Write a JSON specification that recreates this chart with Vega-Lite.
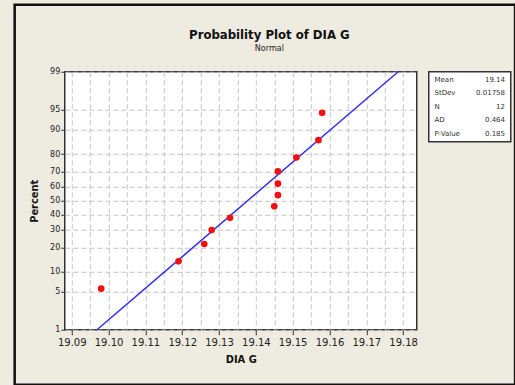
{
  "$schema": "https://vega.github.io/schema/vega-lite/v6.json",
  "autosize": {"type": "pad"},
  "padding": {"left": 11.75, "top": 1.75, "right": 0.25, "bottom": 0.75},
  "background": "#EEEBE0",
  "bounds": "flush",
  "spacing": 12,
  "title": {
    "text": "Probability Plot of DIA G",
    "subtitle": "Normal",
    "anchor": "middle",
    "frame": "bounds",
    "dx": 4.5,
    "offset": -50,
    "font": "DejaVu Sans Condensed",
    "fontSize": 13,
    "fontWeight": "bold",
    "color": "#111111",
    "subtitleFont": "DejaVu Sans Condensed",
    "subtitleFontSize": 9,
    "subtitleColor": "#222222",
    "subtitlePadding": 2
  },
  "config": {
    "view": {"stroke": "#333333", "strokeWidth": 1.5, "fill": "white"},
    "font": "DejaVu Sans"
  },
  "hconcat": [
    {
      "width": 352,
      "height": 258,
      "layer": [
        {
          "data": {"values": [{}]},
          "mark": {"type": "rect", "filled": false, "stroke": "#111111", "strokeWidth": 2.5, "clip": false},
          "encoding": {
            "x": {"datum": 19.0745, "type": "quantitative"},
            "x2": {"datum": 19.2104},
            "y": {"datum": 3.5346, "type": "quantitative"},
            "y2": {"datum": -3.3184}
          }
        },
        {
          "data": {"values": [
            {"dia": 19.09685, "z": -2.3263},
            {"dia": 19.17865, "z": 2.3263}
          ]},
          "mark": {"type": "line", "color": "#3535ee", "strokeWidth": 1.6},
          "encoding": {
            "x": {"field": "dia", "type": "quantitative"},
            "y": {"field": "z", "type": "quantitative"}
          }
        },
        {
          "data": {"values": [
            {"dia": 19.098, "percent": 5.6, "z": -1.5853},
            {"dia": 19.119, "percent": 13.7, "z": -1.0932},
            {"dia": 19.126, "percent": 21.8, "z": -0.7801},
            {"dia": 19.128, "percent": 29.8, "z": -0.5286},
            {"dia": 19.133, "percent": 37.9, "z": -0.3081},
            {"dia": 19.145, "percent": 46.0, "z": -0.1013},
            {"dia": 19.146, "percent": 54.0, "z": 0.1013},
            {"dia": 19.146, "percent": 62.1, "z": 0.3081},
            {"dia": 19.146, "percent": 70.2, "z": 0.5286},
            {"dia": 19.151, "percent": 78.2, "z": 0.7801},
            {"dia": 19.157, "percent": 86.3, "z": 1.0932},
            {"dia": 19.158, "percent": 94.4, "z": 1.5853}
          ]},
          "mark": {"type": "circle", "color": "#f01010", "size": 44, "opacity": 1},
          "encoding": {
            "x": {
              "field": "dia",
              "type": "quantitative",
              "scale": {"domain": [19.0881, 19.1837], "nice": false, "zero": false},
              "axis": {
                "title": "DIA G",
                "titleFont": "DejaVu Sans Condensed",
                "titleFontSize": 11,
                "titleFontWeight": "bold",
                "titleColor": "#111111",
                "titlePadding": 6,
                "values": [19.09, 19.095, 19.1, 19.105, 19.11, 19.115, 19.12, 19.125, 19.13, 19.135, 19.14, 19.145, 19.15, 19.155, 19.16, 19.165, 19.17, 19.175, 19.18],
                "tickCount": 100,
                "labelExpr": "round(datum.value * 1000) % 10 == 0 ? format(datum.value, '.2f') : ''",
                "labelOverlap": false,
                "labelFont": "DejaVu Sans",
                "labelFontSize": 10,
                "labelColor": "#222222",
                "labelPadding": 3,
                "domain": false,
                "tickColor": "#333333",
                "tickSize": 5,
                "tickOpacity": {"condition": {"test": "round(datum.value * 1000) % 10 != 0", "value": 0}, "value": 1},
                "grid": true,
                "gridColor": "#c4c4c4",
                "gridDash": [5, 3],
                "gridWidth": 1
              }
            },
            "y": {
              "field": "z",
              "type": "quantitative",
              "scale": {"domain": [-2.3263, 2.3263], "nice": false, "zero": false},
              "axis": {
                "title": "Percent",
                "titleFont": "DejaVu Sans Condensed",
                "titleFontSize": 11,
                "titleFontWeight": "bold",
                "titleColor": "#111111",
                "titlePadding": 10,
                "values": [-2.3263, -1.6449, -1.2816, -0.8416, -0.5244, -0.2533, 0, 0.2533, 0.5244, 0.8416, 1.2816, 1.6449, 2.3263],
                "tickCount": 100,
                "labelExpr": "format(cumulativeNormal(datum.value) * 100, '.0f')",
                "labelOverlap": false,
                "labelFont": "DejaVu Sans",
                "labelFontSize": 8,
                "labelColor": "#222222",
                "labelPadding": 1,
                "domain": false,
                "tickColor": "#333333",
                "tickSize": 4,
                "grid": true,
                "gridColor": "#c4c4c4",
                "gridDash": [5, 3],
                "gridWidth": 1
              }
            }
          }
        }
      ]
    },
    {
      "width": 82,
      "height": 70,
      "data": {"values": [
        {"stat": "Mean", "value": "19.14"},
        {"stat": "StDev", "value": "0.01758"},
        {"stat": "N", "value": "12"},
        {"stat": "AD", "value": "0.464"},
        {"stat": "P-Value", "value": "0.185"}
      ]},
      "encoding": {
        "y": {"field": "stat", "type": "nominal", "sort": null, "axis": null, "scale": {"type": "point", "padding": 0.6}}
      },
      "layer": [
        {
          "mark": {"type": "text", "align": "left", "baseline": "middle", "fontSize": 7, "color": "#333333", "font": "DejaVu Sans"},
          "encoding": {
            "x": {"datum": 0.07, "type": "quantitative", "scale": {"domain": [0, 1]}, "axis": null},
            "text": {"field": "stat"}
          }
        },
        {
          "mark": {"type": "text", "align": "right", "baseline": "middle", "fontSize": 7, "color": "#333333", "font": "DejaVu Sans"},
          "encoding": {
            "x": {"datum": 0.93, "type": "quantitative"},
            "text": {"field": "value"}
          }
        }
      ]
    }
  ]
}
